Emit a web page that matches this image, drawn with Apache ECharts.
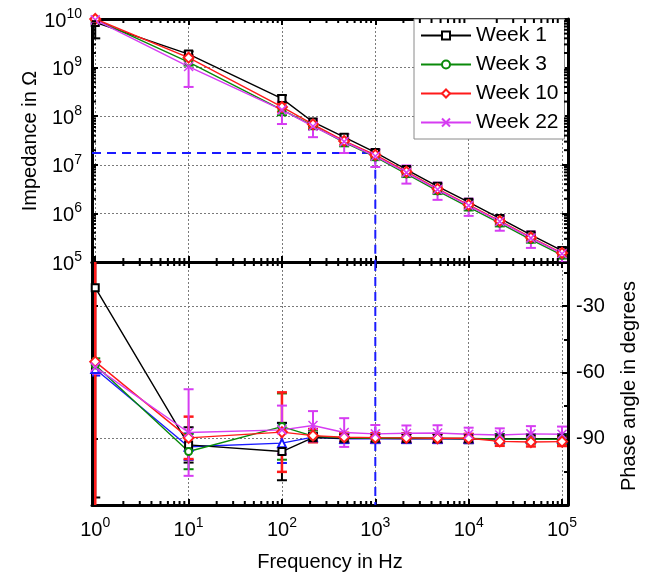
<!DOCTYPE html>
<html>
<head>
<meta charset="utf-8">
<script src="https://cdn.jsdelivr.net/npm/echarts@6/dist/echarts.min.js"></script>
<style>
  html, body { margin: 0; padding: 0; background: #fff; }
  #chart { width: 648px; height: 578px; }
</style>
</head>
<body>
<div id="chart"></div>
<script>
// Measurement frequencies (Hz)
const freq = [1, 10, 100, 215, 464, 1000, 2154, 4642, 10000, 21544, 46416, 100000];

// Impedance magnitude (Ohm) and its +/- spread
const zWeek1  = [8.5e9, 1.9e9, 2.3e8,  7.6e7, 3.7e7, 1.8e7,  8.0e6, 3.6e6, 1.7e6,  7.9e5, 3.6e5, 1.72e5];
const zWeek3  = [9.8e9, 1.3e9, 1.35e8, 6.4e7, 2.9e7, 1.45e7, 6.5e6, 2.9e6, 1.35e6, 6.3e5, 2.9e5, 1.38e5];
const zWeek10 = [1.0e10, 1.6e9, 1.55e8, 6.8e7, 3.1e7, 1.6e7, 7.2e6, 3.2e6, 1.5e6,  7.0e5, 3.2e5, 1.53e5];
const zWeek22 = [9.6e9, 1.05e9, 1.35e8, 6.2e7, 3.0e7, 1.5e7, 6.9e6, 3.1e6, 1.45e6, 6.8e5, 3.1e5, 1.48e5];

const zErr1  = [4.5e9, 2.5e8, 4.0e7, 1.2e7, 6.0e6, 2.5e6, 1.1e6, 5.0e5, 2.3e5, 1.1e5, 5.0e4, 2.5e4];
const zErr3  = [1.5e9, 2.0e8, 3.0e7, 1.0e7, 5.0e6, 2.0e6, 9.0e5, 4.0e5, 2.0e5, 9.0e4, 4.0e4, 2.0e4];
const zErr10 = [1.5e9, 2.2e8, 3.2e7, 1.1e7, 5.0e6, 2.2e6, 1.0e6, 4.5e5, 2.1e5, 1.0e5, 4.5e4, 2.2e4];
const zErr22 = [2.0e9, 6.5e8, 6.6e7, 2.5e7, 1.25e7, 6.0e6, 2.8e6, 1.2e6, 5.6e5, 2.4e5, 1.15e5, 5.0e4];

// Phase angle (degrees) and its +/- spread
const pWeek1  = [-21.6, -92.8, -95.8, -89.5, -89.8, -89.8, -89.9, -89.9, -90.0, -90.0, -90.0, -90.0];
const pWeek3  = [-56.6, -95.8, -84.5, -88.8, -89.6, -89.8, -89.6, -89.8, -89.9, -90.1, -90.2, -90.3];
const pWeek10 = [-55.1, -89.6, -87.0, -88.6, -89.3, -89.5, -89.6, -89.8, -89.8, -91.2, -91.5, -91.3];
const pWeek22 = [-57.6, -87.2, -86.0, -84.0, -87.2, -87.8, -87.5, -87.4, -88.0, -88.3, -87.8, -88.0];
const pExtra  = [-58.4, -93.6, -92.0, -89.3, -90.0, -90.0, -90.0, -90.0, -90.0, -90.0, -90.0, -90.0];

const pErr1  = [95, 8, 13, 2, 2, 2, 2, 2, 2, 2, 2, 2];
const pErr3  = [3, 8, 15, 2.5, 2, 2, 2, 2, 2, 2, 2, 2];
const pErr10 = [72, 9.6, 18, 3, 2, 2, 2, 2, 2, 2, 2, 2];
const pErr22 = [3, 19.6, 11, 6.5, 6.5, 4, 3.5, 3.5, 3, 3, 3.5, 3.5];
const pErrX  = [3, 6, 9, 2, 2, 2, 2, 2, 2, 2, 2, 2];

// Reference marker: impedance read at 1 kHz
const refFreq = 1000;
const refImpedance = 1.75e7;

// Axis ranges and tick values
const xMin = 0.923, xMax = 115900;
const zMin = 1e5, zMax = 1e10;
const phaseMin = -120, phaseMax = -10, phaseStep = 30;
const phaseLabels = [-30, -60, -90];
const minorMult = [2, 3, 4, 5, 6, 7, 8, 9];
const xMinorTicks = [];
for (let k = 0; k < 5; k++) minorMult.forEach(m => xMinorTicks.push(m * Math.pow(10, k)));
const zMinorTicks = [];
for (let k = 5; k < 10; k++) minorMult.forEach(m => zMinorTicks.push(m * Math.pow(10, k)));

const FONT = 'Liberation Sans, Arial, sans-serif';
const C_BLACK = '#000000', C_GREEN = '#0a8a0a', C_RED = '#ff1a1a', C_PURPLE = '#d63cf2', C_BLUE = '#1a1aff';

function powLabel(v) {
  const e = Math.log10(v);
  if (Math.abs(e - Math.round(e)) > 1e-6) return '';
  return '{b|10}{s|' + Math.round(e) + '}';
}
const powRich = {
  b: { fontSize: 20, fontFamily: FONT, color: '#000', verticalAlign: 'bottom', lineHeight: 24 },
  s: { fontSize: 14, fontFamily: FONT, color: '#000', verticalAlign: 'top', lineHeight: 24, padding: [0, 0, 6, 0] }
};

const frameLine = { show: true, onZero: false, lineStyle: { color: '#000', width: 3 } };
const gridLine = { show: true, lineStyle: { color: '#7a7a7a', width: 1, type: [2, 2] } };
const majorTick = { show: true, inside: true, length: 6, lineStyle: { color: '#000', width: 2 } };

function logX(gridIndex, position, opts) {
  return Object.assign({
    type: 'log', logBase: 10, gridIndex, position, min: xMin, max: xMax,
    axisLine: frameLine, axisTick: majorTick,
    axisLabel: { show: false }, splitLine: { show: false }
  }, opts || {});
}
function phaseAxis(position, opts) {
  return Object.assign({
    type: 'value', gridIndex: 1, position, min: phaseMin, max: phaseMax, interval: phaseStep,
    axisLine: frameLine, axisTick: majorTick,
    minorTick: { show: true, splitNumber: 2, length: 4, lineStyle: { color: '#000', width: 2 } },
    axisLabel: { show: false }, splitLine: { show: false }
  }, opts || {});
}

// Short inward marks at the 2..9 positions of each decade, along both edges of a grid
function logMinorTicks(xi, yi, values, dir, anchor) {
  return {
    type: 'custom', xAxisIndex: xi, yAxisIndex: yi, clip: false, silent: true, z: 6,
    data: values.map(v => (dir === 'x' ? [v, anchor] : [anchor, v])),
    renderItem(params, api) {
      const cs = params.coordSys;
      const p = api.coord([api.value(0), api.value(1)]);
      const len = 4;
      const style = { stroke: '#000', lineWidth: 2 };
      if (dir === 'x') {
        return { type: 'group', children: [
          { type: 'line', shape: { x1: p[0], y1: cs.y + cs.height, x2: p[0], y2: cs.y + cs.height - len }, style },
          { type: 'line', shape: { x1: p[0], y1: cs.y, x2: p[0], y2: cs.y + len }, style }
        ] };
      }
      return { type: 'group', children: [
        { type: 'line', shape: { x1: cs.x, y1: p[1], x2: cs.x + len, y2: p[1] }, style },
        { type: 'line', shape: { x1: cs.x + cs.width, y1: p[1], x2: cs.x + cs.width - len, y2: p[1] }, style }
      ] };
    }
  };
}

// Vertical error bars with caps
function errorBars(xi, yi, vals, errs, color, width) {
  return {
    type: 'custom', xAxisIndex: xi, yAxisIndex: yi, clip: true, silent: true, z: 3,
    encode: { x: 0, y: [1, 2] },
    data: freq.map((f, i) => [f, vals[i] - errs[i], vals[i] + errs[i]]),
    renderItem(params, api) {
      const x = api.value(0);
      const lo = api.coord([x, api.value(1)]);
      const hi = api.coord([x, api.value(2)]);
      const w = 5;
      const style = { stroke: color, lineWidth: width || 2 };
      return {
        type: 'group', children: [
          { type: 'line', shape: { x1: lo[0], y1: lo[1], x2: hi[0], y2: hi[1] }, style },
          { type: 'line', shape: { x1: lo[0] - w, y1: lo[1], x2: lo[0] + w, y2: lo[1] }, style },
          { type: 'line', shape: { x1: hi[0] - w, y1: hi[1], x2: hi[0] + w, y2: hi[1] }, style }
        ]
      };
    }
  };
}

const crossPath = 'path://M0,0L10,10M10,0L0,10';
function lineSeries(name, xi, yi, vals, color, symbol, size) {
  return {
    name, type: 'line', xAxisIndex: xi, yAxisIndex: yi, z: 4,
    data: freq.map((f, i) => [f, vals[i]]),
    symbol, symbolSize: size, showSymbol: true,
    lineStyle: { color, width: 1.4 },
    itemStyle: { color, borderColor: color, borderWidth: 1.5 },
    emphasis: { disabled: true }
  };
}

const series = [
  // dashed guide at 1 kHz
  { type: 'line', xAxisIndex: 0, yAxisIndex: 0, z: 2, symbol: 'none', silent: true,
    data: [[xMin, refImpedance], [refFreq, refImpedance], [refFreq, zMin]],
    lineStyle: { color: C_BLUE, width: 2, type: [9, 6] } },
  { type: 'line', xAxisIndex: 2, yAxisIndex: 2, z: 2, symbol: 'none', silent: true,
    data: [[refFreq, phaseMax], [refFreq, phaseMin]],
    lineStyle: { color: C_BLUE, width: 2, type: [9, 6] } },

  logMinorTicks(0, 0, xMinorTicks, 'x', zMin),
  logMinorTicks(2, 2, xMinorTicks, 'x', phaseMin),
  logMinorTicks(0, 0, zMinorTicks, 'y', 1),

  errorBars(0, 0, zWeek1, zErr1, C_BLACK),
  errorBars(0, 0, zWeek3, zErr3, C_GREEN),
  errorBars(0, 0, zWeek10, zErr10, C_RED),
  errorBars(0, 0, zWeek22, zErr22, C_PURPLE),

  errorBars(2, 2, pExtra, pErrX, C_BLUE),
  errorBars(2, 2, pWeek1, pErr1, C_BLACK),
  errorBars(2, 2, pWeek3, pErr3, C_GREEN),
  errorBars(2, 2, pWeek10, pErr10, C_RED, 2.5),
  errorBars(2, 2, pWeek22, pErr22, C_PURPLE),

  lineSeries('Week 1', 0, 0, zWeek1, C_BLACK, 'emptyRect', 7),
  lineSeries('Week 3', 0, 0, zWeek3, C_GREEN, 'emptyCircle', 7),
  lineSeries('Week 10', 0, 0, zWeek10, C_RED, 'emptyDiamond', 10),
  lineSeries('Week 22', 0, 0, zWeek22, C_PURPLE, crossPath, 9),

  lineSeries('blue', 2, 2, pExtra, C_BLUE, 'emptyTriangle', 8),
  lineSeries('Week 1', 2, 2, pWeek1, C_BLACK, 'emptyRect', 7),
  lineSeries('Week 3', 2, 2, pWeek3, C_GREEN, 'emptyCircle', 7),
  lineSeries('Week 10', 2, 2, pWeek10, C_RED, 'emptyDiamond', 10),
  lineSeries('Week 22', 2, 2, pWeek22, C_PURPLE, crossPath, 9)
];

const option = {
  animation: false,
  backgroundColor: '#fff',
  textStyle: { fontFamily: FONT },
  grid: [
    { left: 92, right: 80, top: 19, height: 243 },
    { left: 92, right: 80, top: 262, height: 243 }
  ],
  xAxis: [
    logX(0, 'bottom', { splitLine: gridLine }),
    logX(0, 'top'),
    logX(1, 'bottom', { splitLine: gridLine,
      axisLabel: { show: true, margin: 11, formatter: powLabel, rich: powRich, showMinLabel: true, showMaxLabel: true } }),
    logX(1, 'top')
  ],
  yAxis: [
    { type: 'log', logBase: 10, gridIndex: 0, position: 'left', min: zMin, max: zMax,
      axisLine: frameLine, axisTick: majorTick, splitLine: gridLine,
      axisLabel: { show: true, margin: 10, formatter: powLabel, rich: powRich } },
    { type: 'log', logBase: 10, gridIndex: 0, position: 'right', min: zMin, max: zMax,
      axisLine: frameLine, axisTick: majorTick, axisLabel: { show: false }, splitLine: { show: false } },
    phaseAxis('right', {
      splitLine: gridLine,
      axisLabel: { show: true, margin: 8, fontSize: 20, color: '#000', fontFamily: FONT,
        formatter: v => (phaseLabels.indexOf(v) >= 0 ? String(v) : '') }
    }),
    phaseAxis('left')
  ],
  legend: {
    data: ['Week 1', 'Week 3', 'Week 10', 'Week 22'],
    orient: 'vertical', left: 414, top: 19,
    itemWidth: 50, itemHeight: 10, itemGap: 8,
    padding: [6, 6, 6, 6],
    backgroundColor: '#fff', borderColor: '#8a8a8a', borderWidth: 1, borderRadius: 0,
    textStyle: { fontSize: 21, color: '#000', fontFamily: FONT },
    selectedMode: false
  },
  graphic: [
    { type: 'text', x: 30, y: 141, rotation: Math.PI / 2,
      style: { text: 'Impedance in Ω', font: '20px ' + FONT, fill: '#000', align: 'center', verticalAlign: 'middle' } },
    { type: 'text', x: 629, y: 386, rotation: Math.PI / 2,
      style: { text: 'Phase angle in degrees', font: '20px ' + FONT, fill: '#000', align: 'center', verticalAlign: 'middle' } },
    { type: 'text', x: 330, y: 562,
      style: { text: 'Frequency in Hz', font: '20px ' + FONT, fill: '#000', align: 'center', verticalAlign: 'middle' } }
  ],
  series
};

const chart = echarts.init(document.getElementById('chart'), null, { renderer: 'canvas' });
chart.setOption(option);
</script>
</body>
</html>
